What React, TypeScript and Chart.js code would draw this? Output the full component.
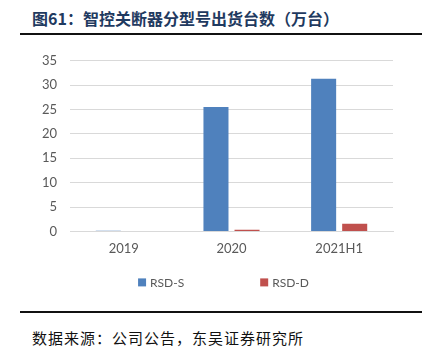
import React, { useEffect, useRef } from "react";
import { Chart, registerables } from "chart.js";

Chart.register(...registerables);

const categories = ["2019", "2020", "2021H1"];
const seriesNames = ["RSD-S", "RSD-D"];
const rsdS = [0.15, 25.5, 31.3];
const rsdD = [0, 0.35, 1.55];
const seriesColors = ["#4F81BD", "#C0504D"];
const yMin = 0;
const yMax = 35;
const yStep = 5;

const titleText = "图61：智控关断器分型号出货台数（万台）";
const sourceText = "数据来源：公司公告，东吴证券研究所";

const legendPlugin = {
  id: "customLegend",
  afterDraw(chart: any) {
    const { ctx, chartArea } = chart;
    ctx.save();
    ctx.font = "12px Lato";
    ctx.textBaseline = "middle";
    const box = 8;
    const gapText = 4;
    const gap = 76;
    const items = chart.data.datasets.map((ds: any) => ({
      text: ds.label,
      color: ds.backgroundColor,
      w: box + gapText + ctx.measureText(ds.label).width,
    }));
    const total = items.reduce((s: number, it: any) => s + it.w, 0) + gap * (items.length - 1);
    let x = (chartArea.left + chartArea.right) / 2 - 8 - total / 2;
    const y = chartArea.bottom + 51;
    items.forEach((it: any) => {
      ctx.fillStyle = it.color;
      ctx.fillRect(x, y - box / 2, box, box);
      ctx.fillStyle = "#595959";
      ctx.fillText(it.text, x + box + gapText, y + 0.5);
      x += it.w + gap;
    });
    ctx.restore();
  },
};

function BarChart() {
  const ref = useRef<HTMLCanvasElement | null>(null);
  useEffect(() => {
    if (!ref.current) return;
    const chart = new Chart(ref.current, {
      type: "bar",
      data: {
        labels: categories,
        datasets: [
          { label: seriesNames[0], data: rsdS, backgroundColor: seriesColors[0] },
          { label: seriesNames[1], data: rsdD, backgroundColor: seriesColors[1] },
        ],
      },
      options: {
        animation: false,
        responsive: false,
        maintainAspectRatio: false,
        layout: { padding: { left: 0, right: 38, top: 18, bottom: 33 } },
        datasets: {
          bar: { categoryPercentage: 0.577, barPercentage: 0.806 },
        },
        plugins: {
          legend: { display: false },
          tooltip: { enabled: false },
          title: { display: false },
        },
        scales: {
          x: {
            grid: { display: false, drawTicks: false },
            border: { display: true, color: "#D9D9D9", width: 1 },
            ticks: { color: "#595959", font: { family: "Lato", size: 13 }, padding: 10 },
          },
          y: {
            min: yMin,
            max: yMax,
            afterFit(scale: any) {
              scale.width = 70;
            },
            grid: { color: "#D9D9D9", lineWidth: 1, drawTicks: false },
            border: { display: false },
            ticks: {
              stepSize: yStep,
              color: "#595959",
              font: { family: "Lato", size: 13 },
              padding: 13,
            },
          },
        },
      },
      plugins: [legendPlugin],
    });
    return () => chart.destroy();
  }, []);
  return <canvas ref={ref} width={431} height={260} style={{ position: "absolute", left: 0, top: 40, width: 431, height: 260 }} />;
}

export default function App() {
  return (
    <div style={{ position: "fixed", left: 0, top: 0, width: 431, height: 363, background: "#fff", overflow: "hidden" }}>
      <div
        style={{
          position: "absolute",
          left: 32,
          top: 8,
          fontFamily: "'Noto Sans CJK SC', sans-serif",
          fontWeight: 700,
          fontSize: 16,
          lineHeight: "20px",
          color: "#1F3A60",
          whiteSpace: "nowrap",
        }}
      >
        {titleText}
      </div>
      <div style={{ position: "absolute", left: 20, top: 33, width: 402, height: 2, background: "#111" }} />
      <BarChart />
      <div style={{ position: "absolute", left: 20, top: 311, width: 402, height: 2, background: "#111" }} />
      <div
        style={{
          position: "absolute",
          left: 32,
          top: 328,
          fontFamily: "'Noto Sans CJK SC', sans-serif",
          fontSize: 15,
          lineHeight: "20px",
          letterSpacing: 1,
          color: "#111",
          whiteSpace: "nowrap",
        }}
      >
        {sourceText}
      </div>
    </div>
  );
}
